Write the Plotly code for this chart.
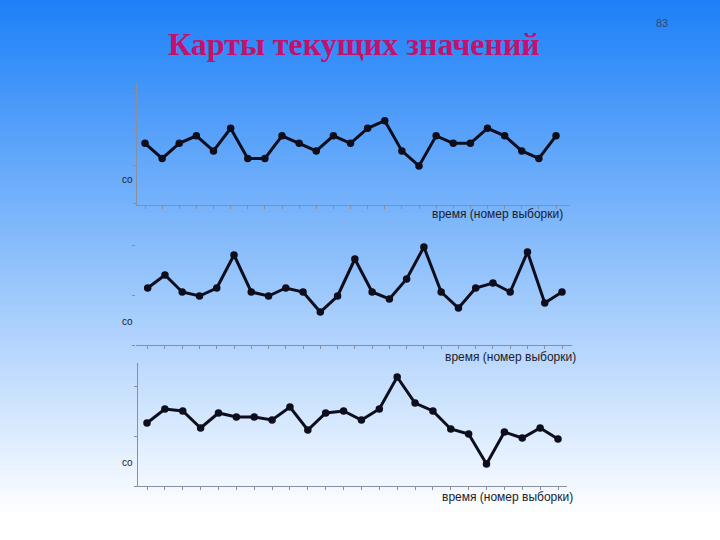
import plotly.graph_objects as go

# ---------------- data ----------------
title_text = "Карты текущих значений"
page_number = "83"
x_label = "время (номер выборки)"
y_label = "co"

chart1_values = [3, 1, 3, 4, 2, 5, 1, 1, 4, 3, 2, 4, 3, 5, 6, 2, 0, 4, 3, 3, 5, 4, 2, 1, 4]
chart2_values = [5.7, 7.0, 5.3, 4.9, 5.7, 9.0, 5.3, 4.9, 5.7, 5.3, 3.3, 4.9, 8.6,
                 5.3, 4.6, 6.6, 9.8, 5.3, 3.7, 5.7, 6.2, 5.3, 9.3, 4.2, 5.3]
chart3_values = [6.3, 7.7, 7.5, 5.8, 7.3, 6.9, 6.9, 6.6, 7.9, 5.6, 7.3, 7.5,
                 6.6, 7.7, 10.9, 8.3, 7.5, 5.7, 5.2, 2.2, 5.4, 4.8, 5.8, 4.7]

# ---------------- layout (pixels) ----------------
W, H = 720, 540
panels = [
    dict(values=chart1_values, left=137, right=570, top=83, bottom=205,
         first=145, last=556, yrange=[-5.17, 11.0], yline=True,
         xlab=(497, 214), ylab=(127, 180)),
    dict(values=chart2_values, left=136, right=572, top=240, bottom=345,
         first=147.7, last=562, yrange=[0, 10.5], yline=False,
         xlab=(510, 357), ylab=(127, 321)),
    dict(values=chart3_values, left=138, right=567, top=363, bottom=486,
         first=147, last=558, yrange=[0, 12.3], yline=True,
         xlab=(507, 497), ylab=(127, 462)),
]

line_color = "#0d0d1c"
axis_color = "#8a8fa0"

fig = go.Figure()
annotations = []
shapes = []

# background gradient
top_rgb = (28, 128, 248)
bot_rgb = (255, 255, 255)
grad_end = 515
step = 3
for y0 in range(0, H, step):
    t = min(1.0, (y0 + step / 2) / grad_end)
    c = tuple(int(round(a + (b - a) * t)) for a, b in zip(top_rgb, bot_rgb))
    shapes.append(dict(type="rect", xref="paper", yref="paper", layer="below",
                       x0=0, x1=1, y0=1 - (y0 + step + 0.5) / H, y1=1 - y0 / H,
                       fillcolor="rgb(%d,%d,%d)" % c, line=dict(width=0)))

for i, p in enumerate(panels):
    n = len(p["values"])
    xs = list(range(1, n + 1))
    s = (p["last"] - p["first"]) / (n - 1)
    xr = [1 - (p["first"] - p["left"]) / s, n + (p["right"] - p["last"]) / s]
    suffix = "" if i == 0 else str(i + 1)
    fig.add_trace(go.Scatter(
        x=xs, y=p["values"], mode="lines+markers",
        line=dict(color=line_color, width=3),
        marker=dict(color=line_color, size=7.5),
        xaxis="x" + suffix, yaxis="y" + suffix, showlegend=False,
        hoverinfo="skip"))
    fig.update_layout(**{
        "xaxis" + suffix: dict(
            domain=[p["left"] / W, p["right"] / W], range=xr,
            anchor="y" + suffix, showgrid=False, zeroline=False,
            showline=True, linecolor=axis_color, linewidth=1,
            ticks="outside", ticklen=3, tickcolor=axis_color, dtick=1,
            showticklabels=False, fixedrange=True),
        "yaxis" + suffix: dict(
            domain=[1 - p["bottom"] / H, 1 - p["top"] / H], range=p["yrange"],
            anchor="x" + suffix, showgrid=False, zeroline=False,
            showline=p["yline"], linecolor=axis_color, linewidth=1,
            ticks="outside", ticklen=3, tickcolor=axis_color,
            nticks=5, showticklabels=False, fixedrange=True),
    })
    annotations.append(dict(
        text=x_label, x=p["xlab"][0] / W, y=1 - p["xlab"][1] / H,
        xref="paper", yref="paper", showarrow=False, xanchor="center",
        yanchor="middle", font=dict(family="Liberation Sans, Arial", size=12,
                                    color="#1c1c2a")))
    annotations.append(dict(
        text=y_label, x=p["ylab"][0] / W, y=1 - p["ylab"][1] / H,
        xref="paper", yref="paper", showarrow=False, xanchor="center",
        yanchor="middle", font=dict(family="Liberation Sans, Arial", size=10,
                                    color="#1c1c2a")))

annotations.append(dict(
    text="<b>" + title_text + "</b>", x=354 / W, y=1 - 44 / H,
    xref="paper", yref="paper", showarrow=False, xanchor="center",
    yanchor="middle",
    font=dict(family="Liberation Serif, Times New Roman", size=32, color="#c4116e")))
annotations.append(dict(
    text=page_number, x=662 / W, y=1 - 23 / H,
    xref="paper", yref="paper", showarrow=False, xanchor="center",
    yanchor="middle",
    font=dict(family="Liberation Sans, Arial", size=11, color="#3a4670")))

fig.update_layout(
    width=W, height=H, margin=dict(l=0, r=0, t=0, b=0),
    paper_bgcolor="white", plot_bgcolor="rgba(0,0,0,0)",
    shapes=shapes, annotations=annotations, showlegend=False)

fig.write_html("out.html", config={"displayModeBar": False})

# remove the browser's default page margin so the figure fills the window
with open("out.html", "r", encoding="utf-8") as f:
    html = f.read()
html = html.replace("<body>", '<body style="margin:0;padding:0;overflow:hidden">', 1)
with open("out.html", "w", encoding="utf-8") as f:
    f.write(html)
